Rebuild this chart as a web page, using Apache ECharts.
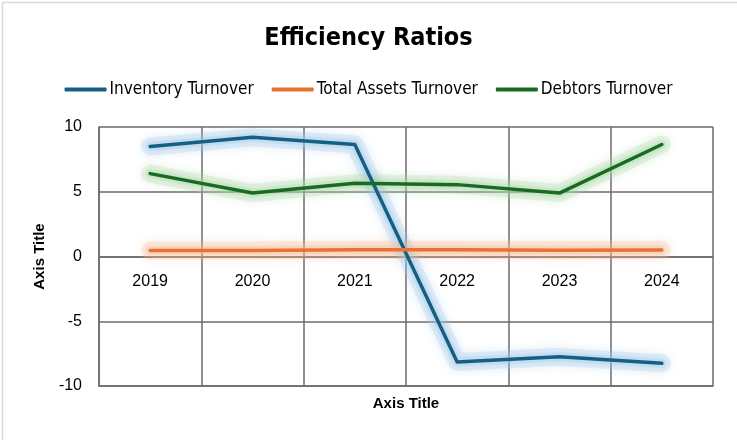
<!DOCTYPE html>
<html>
<head>
<meta charset="utf-8">
<script src="https://cdn.jsdelivr.net/npm/echarts@6/dist/echarts.min.js"></script>
<style>
html,body{margin:0;padding:0;background:#fff;}
#chart{width:737px;height:440px;}
</style>
</head>
<body>
<div id="chart"></div>
<script>
const categories = ['2019', '2020', '2021', '2022', '2023', '2024'];
const inventoryTurnover = [8.5, 9.2, 8.65, -8.15, -7.75, -8.25];
const totalAssetsTurnover = [0.46, 0.47, 0.52, 0.53, 0.48, 0.5];
const debtorsTurnover = [6.4, 4.9, 5.65, 5.55, 4.9, 8.65];
const yTicks = { min: -10, max: 10, interval: 5 };

const narrow = '"DejaVu Sans Condensed", "Liberation Sans Narrow", "Liberation Sans", sans-serif';
const regular = '"Liberation Sans", Arial, sans-serif';

function lineSeries(name, data, color) {
  return {
    name: name,
    type: 'line',
    xAxisIndex: 0,
    data: data,
    symbol: 'none',
    z: 3,
    lineStyle: { color: color, width: 3.5, cap: 'round', join: 'round' },
    itemStyle: { color: color }
  };
}
function glowSeries(name, data, glow, w, op) {
  return {
    name: name + ' glow',
    type: 'line',
    xAxisIndex: 0,
    data: data,
    symbol: 'none',
    silent: true,
    z: 2,
    tooltip: { show: false },
    lineStyle: {
      color: glow, width: w, opacity: op, cap: 'round', join: 'round',
      shadowColor: glow, shadowBlur: 10
    },
    itemStyle: { color: glow }
  };
}

const gridLine = { color: '#6b6b6b', width: 1.5 };

const chart = echarts.init(document.getElementById('chart'), null, { renderer: 'canvas' });
chart.setOption({
  animation: false,
  backgroundColor: '#ffffff',
  graphic: [{
    type: 'rect',
    left: 0, top: 0,
    shape: { x: 0.75, y: 0.75, width: 735.5, height: 438.5 },
    style: { fill: 'none', stroke: '#d9d9d9', lineWidth: 1.5 },
    silent: true,
    z: 100
  }],
  title: {
    text: 'Efficiency Ratios',
    left: 'center',
    top: 21,
    textStyle: { fontFamily: narrow, fontSize: 25, fontWeight: 'bold', color: '#000' }
  },
  legend: {
    top: 76,
    left: 'center',
    icon: 'roundRect',
    itemWidth: 42,
    itemHeight: 4,
    itemGap: 18,
    textStyle: { fontFamily: narrow, fontSize: 17, color: '#000', padding: [0, 0, 0, -2] },
    data: ['Inventory Turnover', 'Total Assets Turnover', 'Debtors Turnover']
  },
  grid: { left: 99, right: 24, top: 127, bottom: 54, containLabel: false },
  xAxis: [{
    type: 'category',
    data: categories,
    boundaryGap: true,
    position: 'bottom',
    offset: -129.5,
    axisLine: { show: true, onZero: false, lineStyle: gridLine },
    axisTick: { show: false },
    axisLabel: { fontFamily: regular, fontSize: 16, color: '#000', margin: 17 },
    splitLine: { show: true, lineStyle: gridLine }
  }, {
    type: 'category',
    data: categories,
    boundaryGap: true,
    position: 'bottom',
    name: 'Axis Title',
    nameLocation: 'middle',
    nameGap: 10,
    nameTextStyle: { fontFamily: regular, fontSize: 15, fontWeight: 'bold', color: '#000' },
    axisLine: { show: true, onZero: false, lineStyle: gridLine },
    axisTick: { show: false },
    axisLabel: { show: false },
    splitLine: { show: false }
  }],
  yAxis: {
    type: 'value',
    min: yTicks.min,
    max: yTicks.max,
    interval: yTicks.interval,
    name: 'Axis Title',
    nameLocation: 'middle',
    nameGap: 52,
    nameRotate: 90,
    nameTextStyle: { fontFamily: regular, fontSize: 15, fontWeight: 'bold', color: '#000' },
    axisLine: { show: true, lineStyle: gridLine },
    axisTick: { show: false },
    axisLabel: { fontFamily: regular, fontSize: 16, color: '#000', margin: 17 },
    splitLine: { show: true, lineStyle: gridLine }
  },
  series: [
    glowSeries('Inventory Turnover', inventoryTurnover, '#9cc6e6', 18, 0.22),
    glowSeries('Total Assets Turnover', totalAssetsTurnover, '#f7b996', 18, 0.22),
    glowSeries('Debtors Turnover', debtorsTurnover, '#a8d6a2', 18, 0.22),
    glowSeries('Inventory Turnover', inventoryTurnover, '#9cc6e6', 9, 0.25),
    glowSeries('Total Assets Turnover', totalAssetsTurnover, '#f7b996', 9, 0.25),
    glowSeries('Debtors Turnover', debtorsTurnover, '#a8d6a2', 9, 0.25),
    lineSeries('Inventory Turnover', inventoryTurnover, '#156082'),
    lineSeries('Total Assets Turnover', totalAssetsTurnover, '#e97132'),
    lineSeries('Debtors Turnover', debtorsTurnover, '#196b24')
  ]
});
</script>
</body>
</html>
